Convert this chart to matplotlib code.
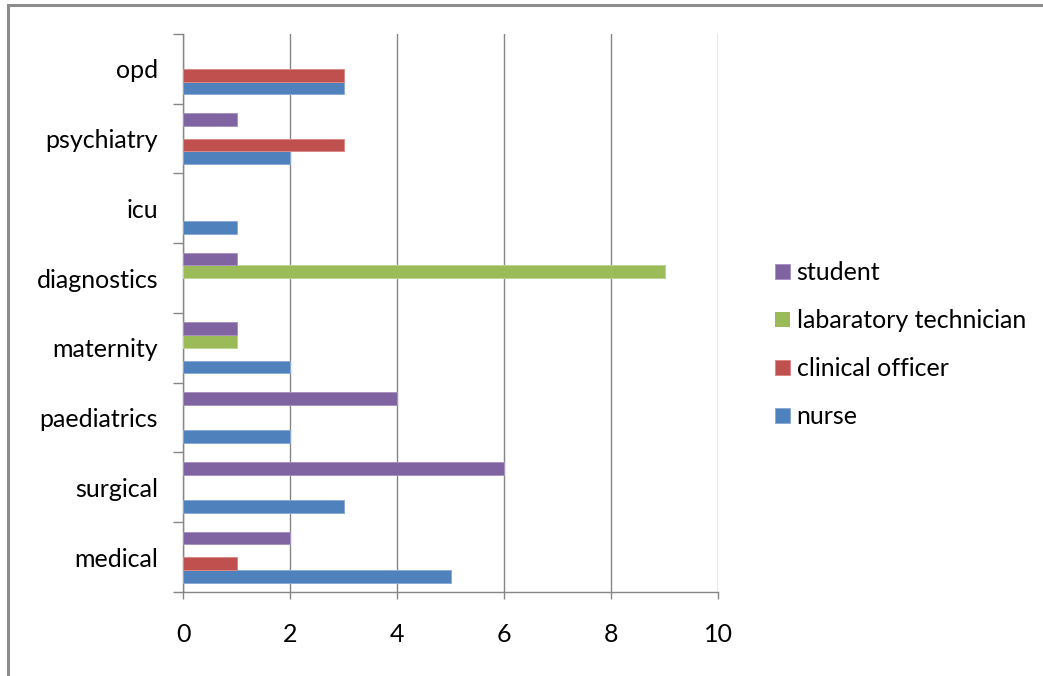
import numpy as np
import matplotlib
matplotlib.use('Agg')
import matplotlib.pyplot as plt
from matplotlib.patches import Rectangle

plt.rcParams['font.family'] = ['Lato', 'DejaVu Sans']

departments = ['medical', 'surgical', 'paediatrics', 'maternity',
               'diagnostics', 'icu', 'psychiatry', 'opd']

nurse            = [5, 3, 2, 2, 0, 1, 2, 3]
clinical_officer = [1, 0, 0, 0, 0, 0, 3, 3]
lab_technician   = [0, 0, 0, 1, 9, 0, 0, 0]
student          = [2, 6, 4, 1, 1, 0, 1, 0]

series_names  = ['nurse', 'clinical officer', 'labaratory technician', 'student']
series_values = [nurse, clinical_officer, lab_technician, student]
colors = ['#4F81BD', '#C0504D', '#9BBB59', '#8064A2']
edges  = ['#8CAAD6', '#D98A88', '#BDD495', '#A893C2']

fig = plt.figure(figsize=(10.43, 6.76), dpi=100)
ax = fig.add_axes([0.1755, 0.1243, 0.5129, 0.8254])

y = np.arange(len(departments))
h = 0.183
offsets = [-1.5 * h, -0.5 * h, 0.5 * h, 1.5 * h]

for name, vals, c, e, off in zip(series_names, series_values, colors, edges, offsets):
    lw = [0.7 if v > 0 else 0 for v in vals]
    ax.barh(y + off, vals, height=h, color=c, edgecolor=e, linewidth=lw,
            label=name, zorder=3)

ax.set_xlim(0, 10)
ax.set_ylim(-0.5, len(departments) - 0.5)

ax.set_xticks(range(0, 11, 2))
ax.set_yticks(y)
ax.set_yticklabels(departments)
ax.set_yticks(np.arange(-0.5, len(departments), 1), minor=True)

ax.grid(axis='x', color='#868686', linewidth=1.0, zorder=0)
for s in ['top', 'right']:
    ax.spines[s].set_visible(False)
for s in ['left', 'bottom']:
    ax.spines[s].set_color('#868686')
    ax.spines[s].set_linewidth(1.0)

ax.tick_params(axis='y', which='major', length=0, pad=18, labelsize=18)
ax.tick_params(axis='y', which='minor', length=7, color='#868686', width=1.0)
ax.tick_params(axis='x', which='major', length=5, color='#868686', width=1.0,
               pad=17, labelsize=18)

handles, labels = ax.get_legend_handles_labels()
leg = fig.legend(handles[::-1], labels[::-1], loc='center left',
                 bbox_to_anchor=(0.7315, 0.490), frameon=False, fontsize=18,
                 handlelength=0.6, handleheight=0.6, handletextpad=0.25,
                 labelspacing=1.0, borderpad=0)

# outer chart border (only top and left visible in the crop)
fig.patches.append(Rectangle((8 / 1043, -0.05), 1.1, 1 - 5 / 676 + 0.05,
                             transform=fig.transFigure, fill=False,
                             edgecolor='#8C8C8C', linewidth=2.2))

fig.savefig('out.png', dpi=100)
